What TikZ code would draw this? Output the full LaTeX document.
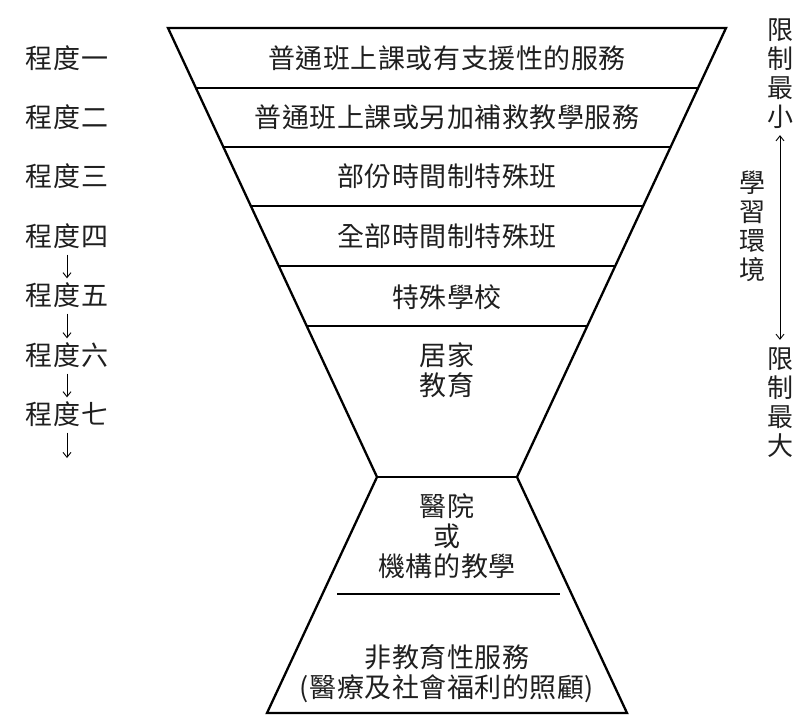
\documentclass[tikz,border=0pt]{standalone}
\usepackage{fontspec}
\newfontfamily\cjk[LetterSpace=2]{Noto Sans CJK TC}
\newfontfamily\cjkv{Noto Sans CJK TC}
\usetikzlibrary{calc,arrows.meta}
\begin{document}
\begin{tikzpicture}[x=1pt,y=-1pt,
  edge/.style={line width=2.3pt,line join=miter},
  rule/.style={line width=1.1pt},
  txt/.style={inner sep=0pt,font=\cjk\fontsize{27}{30}\selectfont,align=center,text=black!88},
  vtxt/.style={inner sep=0pt,font=\cjkv\fontsize{26}{29}\selectfont,align=center,text=black!88},
  darr/.style={line width=0.9pt,-{Straight Barb[length=5pt,width=8pt]}},
  both/.style={line width=0.9pt,{Straight Barb[length=5pt,width=8pt]}-{Straight Barb[length=5pt,width=8pt]}}]
\useasboundingbox (0,0) rectangle (807,715);
% outline
\coordinate (TL) at (168,28);
\coordinate (TR) at (726,28);
\coordinate (WL) at (377,477);
\coordinate (WR) at (517,477);
\coordinate (BL) at (267,713);
\coordinate (BR) at (627,713);
\draw[edge] (TL) -- (TR) -- (WR) -- (BR) -- (BL) -- (WL) -- cycle;
\foreach \t in {0.1336,0.2650,0.3964,0.5301,0.6637}
  \draw[rule] ($(TL)!\t!(WL)$) -- ($(TR)!\t!(WR)$);
\draw[rule] (WL) -- (WR);
\coordinate (ML) at (337,594);
\coordinate (MR) at (560,594);
\draw[rule] (ML) -- (MR);
% funnel texts
\node[txt] (f1) at (447,58) {普通班上課或有支援性的服務};
\node[txt] (f2) at (447,117) {普通班上課或另加補救教學服務};
\node[txt] (f3) at (447,176) {部份時間制特殊班};
\node[txt] (f4) at (447,236) {全部時間制特殊班};
\node[txt] (f5) at (447,297) {特殊學校};
\node[txt] (f6) at (447,370) {居家\\教育};
\node[txt] (f7) at (447,536) {醫院\\或\\機構的教學};
\node[txt] (f8) at (447,674) {非教育性服務\\(醫療及社會福利的照顧)};
% left labels
\node[txt] (l1) at (67,58) {程度一};
\node[txt] (l2) at (67,117) {程度二};
\node[txt] (l3) at (67,176) {程度三};
\node[txt] (l4) at (67,236) {程度四};
\node[txt] (l5) at (67,295) {程度五};
\node[txt] (l6) at (67,355) {程度六};
\node[txt] (l7) at (67,414) {程度七};
\coordinate (l8) at (67,458);
\draw[darr,shorten <=6pt,shorten >=4pt] (l4.south) -- (l5.north);
\draw[darr,shorten <=6pt,shorten >=4pt] (l5.south) -- (l6.north);
\draw[darr,shorten <=6pt,shorten >=4pt] (l6.south) -- (l7.north);
\draw[darr,shorten <=6pt] (l7.south) -- (l8);
% right side
\node[vtxt] (r1) at (780,74) {限\\制\\最\\小};
\node[vtxt] (r2) at (752,226) {學\\習\\環\\境};
\node[vtxt] (r3) at (780,403) {限\\制\\最\\大};
\draw[both,shorten <=6pt,shorten >=8pt] (r1.south) -- (r3.north);
\end{tikzpicture}
\end{document}
